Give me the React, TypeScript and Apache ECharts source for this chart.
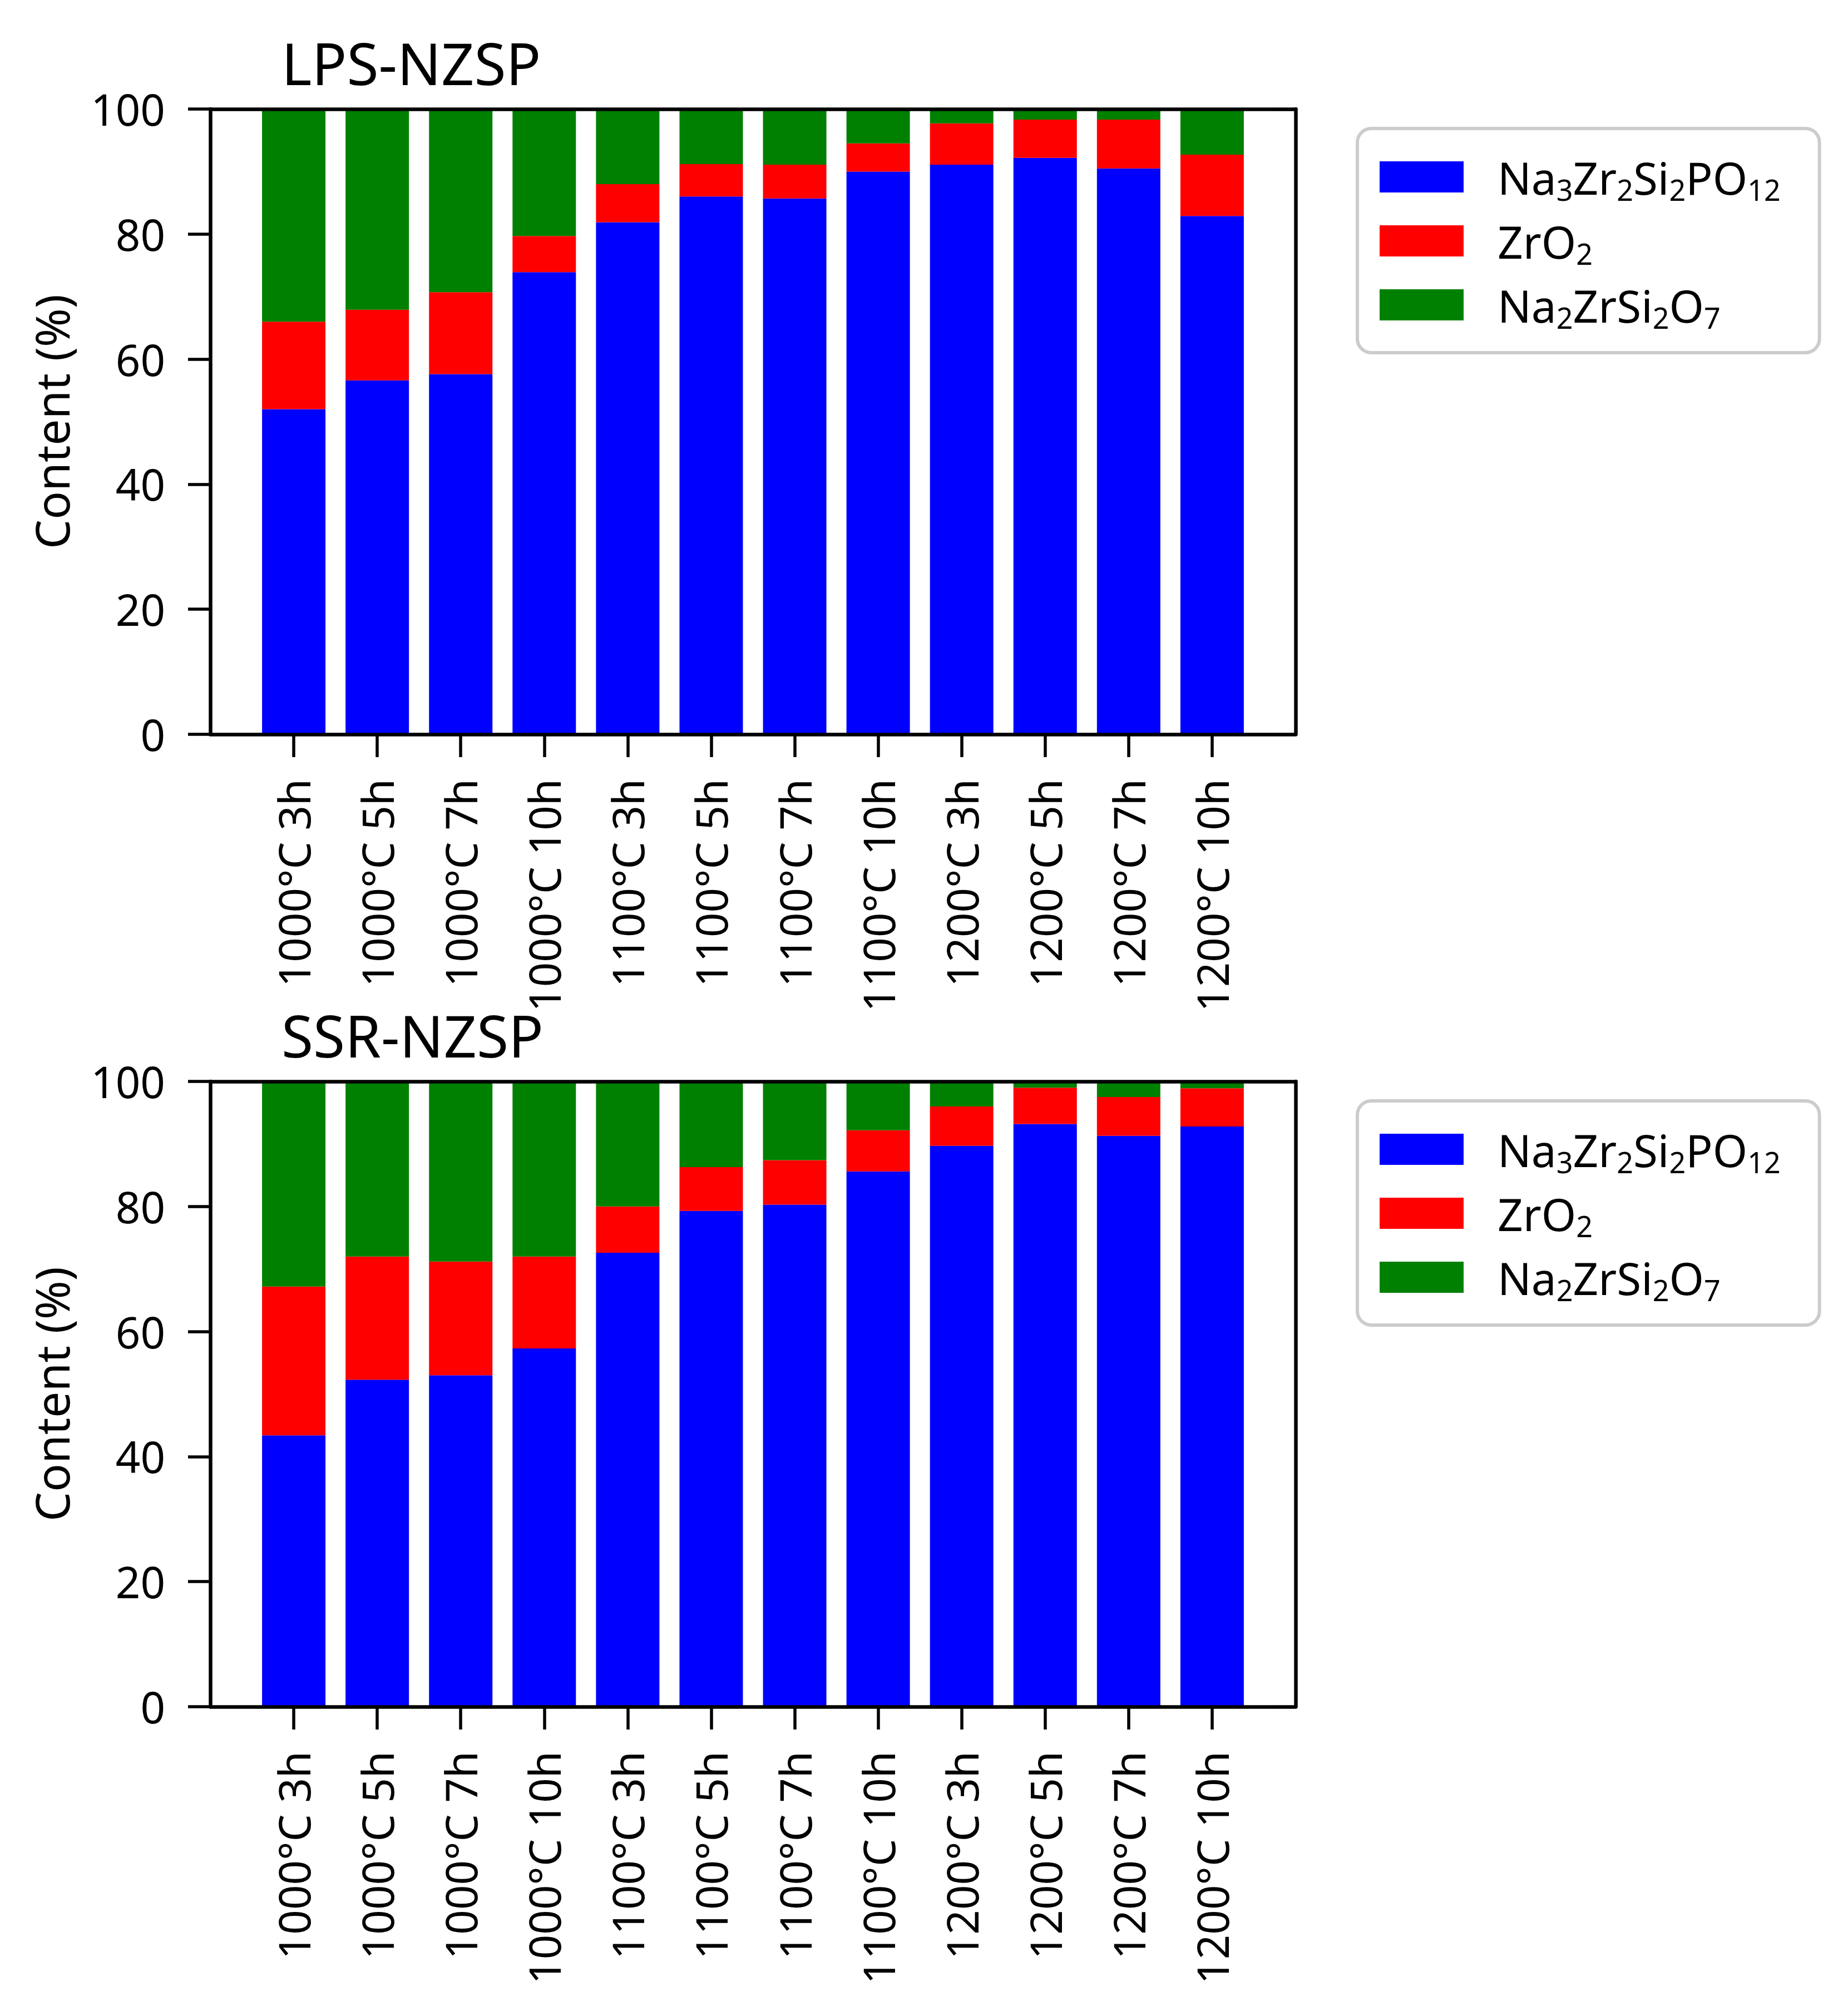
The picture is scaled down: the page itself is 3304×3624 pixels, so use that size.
import React, { useEffect, useRef } from 'react';
import * as echarts from 'echarts';

// sample categories (sintering temperature + time)
const categories = [
  '1000°C 3h', '1000°C 5h', '1000°C 7h', '1000°C 10h',
  '1100°C 3h', '1100°C 5h', '1100°C 7h', '1100°C 10h',
  '1200°C 3h', '1200°C 5h', '1200°C 7h', '1200°C 10h',
];

// LPS-NZSP phase content (%)
const lpsNzsp = [52.0, 56.6, 57.6, 73.9, 81.9, 86.0, 85.7, 90.0, 91.1, 92.2, 90.5, 82.9];
const lpsZro2 = [14.0, 11.3, 13.1, 5.8, 6.1, 5.2, 5.4, 4.5, 6.6, 6.1, 7.8, 9.8];
const lpsNzs = [34.0, 32.1, 29.3, 20.3, 12.0, 8.8, 8.9, 5.5, 2.3, 1.7, 1.7, 7.3];

// SSR-NZSP phase content (%)
const ssrNzsp = [43.4, 52.3, 53.0, 57.3, 72.6, 79.3, 80.3, 85.6, 89.7, 93.2, 91.3, 92.8];
const ssrZro2 = [23.8, 19.7, 18.2, 14.7, 7.4, 7.0, 7.1, 6.6, 6.3, 5.8, 6.2, 6.1];
const ssrNzs = [32.8, 28.0, 28.8, 28.0, 20.0, 13.7, 12.6, 7.8, 4.0, 1.0, 2.5, 1.1];

const panelTitles = ['LPS-NZSP', 'SSR-NZSP'];
const panelData = [
  [lpsNzsp, lpsZro2, lpsNzs],
  [ssrNzsp, ssrZro2, ssrNzs],
];

const phaseNames = ['Na3Zr2Si2PO12', 'ZrO2', 'Na2ZrSi2O7'];
const phaseLabels = ['Na{s|3}Zr{s|2}Si{s|2}PO{s|12}', 'ZrO{s|2}', 'Na{s|2}ZrSi{s|2}O{s|7}'];
const phaseColors = ['#0000ff', '#ff0000', '#008000'];

const FONT = 'Noto Sans';
const PANEL_SHIFT = 1748;

const App: React.FC = () => {
  const chartRef = useRef<HTMLDivElement>(null);

  useEffect(() => {
    document.body.style.margin = '0';
    if (!chartRef.current) return;
    const chart = echarts.init(chartRef.current, null, { renderer: 'svg' });

    // one empty slot on each side gives the matplotlib-like x margins
    const slots = ['', ...categories, ''];
    const last = slots.length - 1;
    const frameLine = { color: '#000', width: 6.5 };

    const grid: any[] = [];
    const xAxis: any[] = [];
    const yAxis: any[] = [];
    const series: any[] = [];
    const legend: any[] = [];
    const title: any[] = [];

    panelTitles.forEach((name, p) => {
      const dy = p * PANEL_SHIFT;
      grid.push({ left: 378, top: 196 + dy, width: 1951, height: 1124 });

      xAxis.push({
        gridIndex: p,
        type: 'category',
        data: slots,
        boundaryGap: false,
        position: 'bottom',
        z: 10,
        axisLine: { show: true, onZero: false, lineStyle: frameLine },
        axisTick: {
          show: true,
          length: 41,
          interval: (i: number) => i > 0 && i < last,
          lineStyle: { color: '#000', width: 5.5 },
        },
        axisLabel: {
          interval: 0,
          rotate: 90,
          margin: 80,
          fontSize: 78,
          color: '#000',
          fontFamily: FONT,
        },
        splitLine: { show: false },
      });
      // top axis only closes the frame
      xAxis.push({
        gridIndex: p,
        type: 'value',
        min: 0,
        max: 1,
        position: 'top',
        z: 10,
        axisLine: { show: true, onZero: false, lineStyle: frameLine },
        axisTick: { show: false },
        axisLabel: { show: false },
        splitLine: { show: false },
      });

      yAxis.push({
        gridIndex: p,
        type: 'value',
        min: 0,
        max: 100,
        interval: 20,
        position: 'left',
        z: 10,
        name: 'Content (%)',
        nameLocation: 'middle',
        nameGap: 244,
        nameTextStyle: { fontSize: 84, color: '#000', fontFamily: FONT },
        axisLine: { show: true, onZero: false, lineStyle: frameLine },
        axisTick: { show: true, length: 40, lineStyle: { color: '#000', width: 5.5 } },
        axisLabel: { margin: 81, fontSize: 78, color: '#000', fontFamily: FONT },
        splitLine: { show: false },
      });
      yAxis.push({
        gridIndex: p,
        type: 'value',
        min: 0,
        max: 100,
        position: 'right',
        z: 10,
        axisLine: { show: true, onZero: false, lineStyle: frameLine },
        axisTick: { show: false },
        axisLabel: { show: false },
        splitLine: { show: false },
      });

      panelData[p].forEach((values, k) => {
        series.push({
          type: 'bar',
          name: phaseNames[k],
          xAxisIndex: p * 2,
          yAxisIndex: p * 2,
          stack: 'panel' + p,
          barWidth: 114,
          data: ['-', ...values, '-'],
          itemStyle: { color: phaseColors[k] },
          emphasis: { disabled: true },
        });
      });

      legend.push({
        orient: 'vertical',
        left: 2440,
        top: 231 + dy,
        data: phaseNames,
        icon: 'rect',
        itemWidth: 151,
        itemHeight: 56,
        itemGap: 19,
        padding: [39, 70, 38, 40],
        backgroundColor: '#fff',
        borderColor: '#cccccc',
        borderWidth: 6,
        borderRadius: 25,
        selectedMode: false,
        formatter: (n: string) => phaseLabels[phaseNames.indexOf(n)],
        textStyle: {
          fontSize: 80,
          lineHeight: 60,
          color: '#000',
          fontFamily: FONT,
          padding: [0, 0, 0, 56],
          rich: {
            s: { fontSize: 52, lineHeight: 52, padding: [44, 0, 0, 0], color: '#000', fontFamily: FONT },
          },
        },
      });

      title.push({
        text: name,
        left: 506,
        top: 60 + dy,
        padding: 0,
        textStyle: { fontSize: 104, lineHeight: 104, fontWeight: 'normal', color: '#000', fontFamily: FONT },
      });
    });

    chart.setOption({
      animation: false,
      backgroundColor: '#fff',
      title,
      legend,
      grid,
      xAxis,
      yAxis,
      series,
    });

    return () => {
      chart.dispose();
    };
  }, []);

  return <div ref={chartRef} style={{ width: '3304px', height: '3624px' }} />;
};

export default App;
